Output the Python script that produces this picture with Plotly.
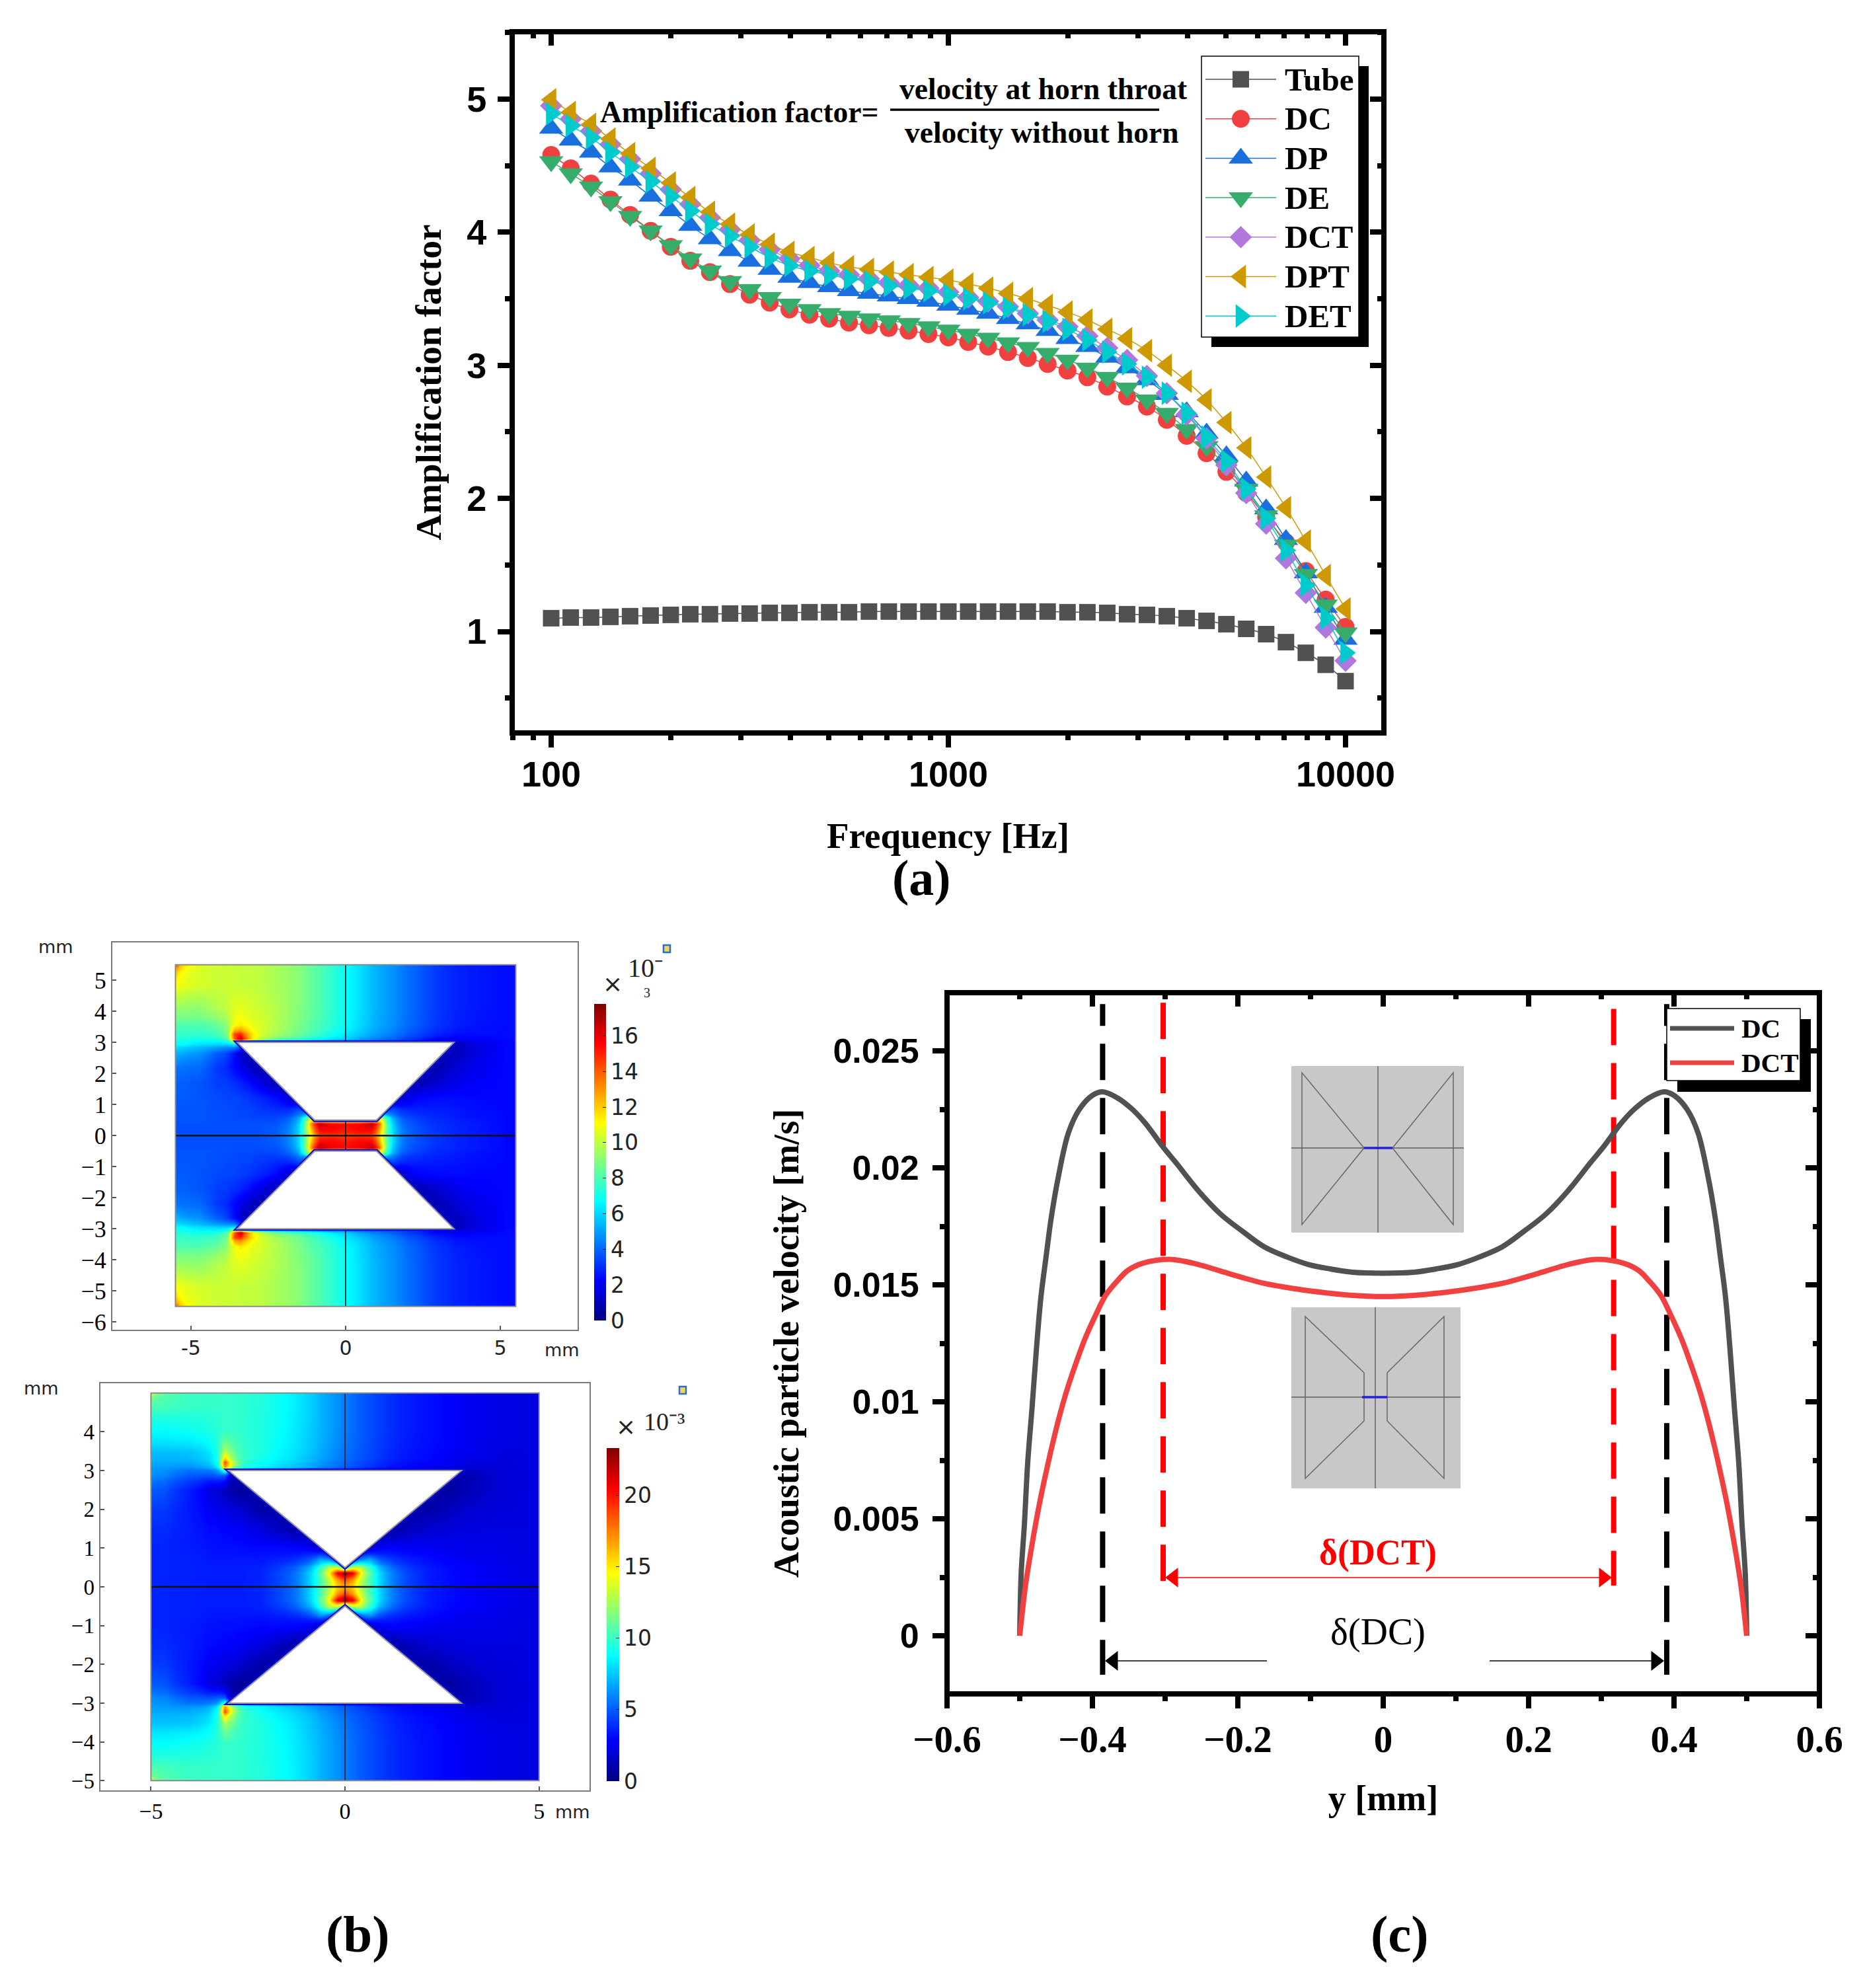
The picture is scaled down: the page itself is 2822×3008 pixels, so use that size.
import plotly.graph_objects as go

W = 2822
H = 3008
PAGE = 8  # default body margin of the written page

# panel (a): amplification factor vs frequency
freq = [100, 112, 126, 141, 158, 178, 200, 224, 251, 282, 316, 355, 398, 447, 501, 562, 631, 708, 794, 891, 1000,
        1122, 1259, 1413, 1585, 1778, 1995, 2239, 2512, 2818, 3162, 3548, 3981, 4467, 5012, 5623, 6310, 7079, 7943, 8913, 10000]
tube = [1.10, 1.105, 1.105, 1.11, 1.115, 1.12, 1.125, 1.13, 1.13, 1.135, 1.135, 1.14, 1.14, 1.145, 1.145, 1.145, 1.15, 1.15, 1.15, 1.15, 1.15,
        1.15, 1.15, 1.15, 1.15, 1.15, 1.145, 1.145, 1.14, 1.13, 1.125, 1.115, 1.10, 1.08, 1.055, 1.02, 0.98, 0.92, 0.84, 0.75, 0.627]
dc = [4.58, 4.48, 4.365, 4.245, 4.13, 4.01, 3.89, 3.785, 3.70, 3.61, 3.53, 3.47, 3.42, 3.38, 3.35, 3.32, 3.30, 3.28, 3.26, 3.235, 3.21,
      3.175, 3.14, 3.10, 3.055, 3.01, 2.96, 2.91, 2.84, 2.765, 2.69, 2.59, 2.47, 2.34, 2.20, 2.04, 1.86, 1.67, 1.455, 1.24, 1.035]
dp = [4.78, 4.69, 4.60, 4.49, 4.39, 4.27, 4.16, 4.05, 3.95, 3.86, 3.78, 3.72, 3.66, 3.62, 3.59, 3.56, 3.54, 3.52, 3.50, 3.48, 3.45,
      3.42, 3.39, 3.35, 3.31, 3.26, 3.20, 3.14, 3.06, 2.98, 2.89, 2.78, 2.65, 2.49, 2.32, 2.13, 1.92, 1.69, 1.44, 1.18, 0.94]
de = [4.53, 4.44, 4.34, 4.23, 4.12, 4.01, 3.90, 3.80, 3.71, 3.63, 3.57, 3.51, 3.46, 3.42, 3.39, 3.37, 3.35, 3.335, 3.315, 3.29, 3.265,
      3.235, 3.205, 3.17, 3.135, 3.09, 3.04, 2.98, 2.91, 2.83, 2.74, 2.64, 2.52, 2.39, 2.24, 2.07, 1.87, 1.65, 1.43, 1.20, 0.99]
dct = [4.95, 4.85, 4.76, 4.66, 4.55, 4.44, 4.32, 4.21, 4.11, 4.02, 3.94, 3.87, 3.80, 3.75, 3.71, 3.68, 3.65, 3.62, 3.60, 3.58, 3.55,
       3.51, 3.48, 3.44, 3.39, 3.34, 3.29, 3.22, 3.13, 3.04, 2.92, 2.79, 2.63, 2.45, 2.25, 2.04, 1.81, 1.55, 1.29, 1.03, 0.78]
dpt = [4.995, 4.90, 4.81, 4.70, 4.59, 4.48, 4.37, 4.26, 4.15, 4.06, 3.98, 3.91, 3.85, 3.81, 3.77, 3.74, 3.72, 3.70, 3.68, 3.66, 3.64,
       3.61, 3.58, 3.54, 3.50, 3.45, 3.40, 3.34, 3.27, 3.20, 3.11, 3.00, 2.88, 2.74, 2.57, 2.38, 2.16, 1.93, 1.68, 1.42, 1.17]
det = [4.89, 4.80, 4.71, 4.60, 4.49, 4.38, 4.27, 4.16, 4.06, 3.97, 3.89, 3.81, 3.75, 3.71, 3.68, 3.65, 3.63, 3.60, 3.58, 3.56, 3.53,
       3.50, 3.47, 3.43, 3.38, 3.33, 3.27, 3.19, 3.10, 3.01, 2.91, 2.79, 2.64, 2.46, 2.28, 2.07, 1.85, 1.61, 1.35, 1.10, 0.84]

series_a = [
    ("Tube", tube, "#515151", "square", 25),
    ("DC", dc, "#F14040", "circle", 27),
    ("DP", dp, "#1A6FDF", "triangle-up", 32),
    ("DE", de, "#37AD6B", "triangle-down", 32),
    ("DCT", dct, "#B177DE", "diamond", 26),
    ("DPT", dpt, "#CC9900", "triangle-left", 31),
    ("DET", det, "#00CBCC", "triangle-right", 31),
]

# panel (b), top: |velocity| in 1e-3 m/s read on a grid, upper half only
b1_x = [-5.5, -5.3, -4.8, -4, -3.8, -3.6, -3.4, -3.2, -2.8, -2.2, -1.8, -1.5, -1.3, -1.1, -0.9, -0.5, 0, 0.5, 0.9, 1.1, 1.3, 1.5, 1.8, 2.2, 3, 3.6, 4.2, 5.5]
b1_y = [0, 0.2, 0.4, 0.52, 0.8, 1.2, 1.7, 2.2, 2.7, 3, 3.1, 3.25, 3.5, 4, 5, 5.3, 5.5]
b1_z = [
    [3.6, 3.6, 3.6, 3.6, 3.6, 3.6, 3.6, 3.6, 3.6, 3.8, 4.6, 6.0, 8.5, 11.5, 14.5, 14.8, 14.5, 14.8, 14.5, 11.5, 8.5, 6.0, 4.4, 3.6, 3.1, 2.8, 2.6, 2.3],
    [3.6, 3.6, 3.6, 3.6, 3.6, 3.6, 3.6, 3.6, 3.6, 3.8, 4.6, 6.0, 8.8, 12.5, 15.6, 15.6, 15.2, 15.6, 15.6, 12.5, 8.8, 6.0, 4.4, 3.6, 3.1, 2.8, 2.6, 2.3],
    [3.6, 3.6, 3.6, 3.6, 3.6, 3.6, 3.6, 3.6, 3.6, 3.7, 4.4, 5.8, 8.8, 13.5, 17.0, 15.8, 15.4, 15.8, 17.0, 13.5, 8.8, 5.8, 4.2, 3.5, 3.0, 2.8, 2.6, 2.3],
    [3.7, 3.7, 3.7, 3.6, 3.6, 3.5, 3.5, 3.5, 3.4, 3.5, 4.0, 5.2, 8.0, 11.0, 8, 8, 8, 8, 8, 11.0, 8.0, 5.2, 3.9, 3.3, 2.9, 2.7, 2.5, 2.3],
    [3.7, 3.7, 3.7, 3.6, 3.5, 3.5, 3.4, 3.4, 3.2, 3.0, 3.0, 3.6, 3, 3, 3, 3, 3, 3, 3, 3, 3, 3.6, 3.0, 2.8, 2.7, 2.6, 2.4, 2.3],
    [3.8, 3.8, 3.7, 3.5, 3.4, 3.4, 3.3, 3.2, 2.9, 2.4, 1.4, 1, 1, 1, 1, 1, 1, 1, 1, 1, 1, 1, 1.4, 2.2, 2.4, 2.4, 2.3, 2.3],
    [3.9, 3.9, 3.7, 3.3, 3.2, 3.0, 2.8, 2.5, 1.8, 0.9, 1, 1, 1, 1, 1, 1, 1, 1, 1, 1, 1, 1, 1, 0.9, 1.4, 1.9, 2.2, 2.3],
    [4.3, 4.2, 4.1, 3.2, 2.8, 2.3, 1.9, 1.4, 0.7, 1, 1, 1, 1, 1, 1, 1, 1, 1, 1, 1, 1, 1, 1, 1, 0.9, 1.5, 2.0, 2.3],
    [5.4, 5.1, 4.8, 3.8, 3.2, 2.4, 1.4, 0.6, 1, 1, 1, 1, 1, 1, 1, 1, 1, 1, 1, 1, 1, 1, 1, 1, 1, 1.1, 1.8, 2.3],
    [6.8, 6.7, 6.2, 6.0, 6.0, 6.5, 5, 3, 3, 3, 3, 3, 3, 3, 3, 3, 3, 3, 3, 3, 3, 3, 3, 3, 2, 1.0, 1.8, 2.3],
    [7.2, 7.2, 7.0, 7.2, 8.5, 14, 17, 13, 10, 8.5, 8, 7.7, 7.4, 7.1, 6.8, 6.2, 5.8, 5, 4.5, 4.3, 4.1, 3.9, 3.5, 3, 2.2, 2, 2.2, 2.4],
    [7.6, 7.6, 7.5, 7.8, 9.2, 14.5, 15, 12.5, 10.5, 9.5, 9, 8.6, 8.2, 7.9, 7.6, 7, 6.3, 5.7, 5.1, 4.8, 4.6, 4.4, 4, 3.5, 2.8, 2.4, 2.4, 2.4],
    [8, 8, 8, 8.4, 9.5, 11, 11.5, 11, 10.5, 9.8, 9.2, 8.8, 8.5, 8.2, 7.9, 7.4, 6.7, 6, 5.4, 5.1, 4.9, 4.7, 4.3, 3.8, 3.1, 2.7, 2.5, 2.4],
    [9.3, 9.3, 9.2, 9.8, 10.2, 10.6, 10.6, 10.5, 10.2, 9.8, 9.3, 9, 8.7, 8.4, 8.1, 7.5, 6.8, 6.1, 5.5, 5.2, 5, 4.8, 4.4, 3.9, 3.2, 2.8, 2.6, 2.4],
    [11, 10.7, 10.4, 10.2, 10.2, 10.2, 10.1, 10.1, 10, 9.6, 9.3, 9, 8.7, 8.4, 8.1, 7.5, 6.8, 6.1, 5.5, 5.2, 5, 4.8, 4.4, 3.9, 3.2, 2.8, 2.6, 2.4],
    [12, 11, 10.5, 10.2, 10.2, 10.2, 10.1, 10.1, 10, 9.6, 9.3, 9, 8.7, 8.4, 8.1, 7.5, 6.8, 6.1, 5.5, 5.2, 5, 4.8, 4.4, 3.9, 3.2, 2.8, 2.6, 2.4],
    [13.5, 11.5, 10.6, 10.3, 10.2, 10.2, 10.1, 10.1, 10, 9.6, 9.3, 9, 8.7, 8.4, 8.1, 7.5, 6.8, 6.1, 5.5, 5.2, 5, 4.8, 4.4, 3.9, 3.2, 2.8, 2.6, 2.4],
]
b1_ticks = [0, 2, 4, 6, 8, 10, 12, 14, 16]
b1_zmax = 17.8
b1_slot = [(-3.5, 3), (3.5, 3), (1, 0.5), (-1, 0.5)]

# panel (b), bottom
b2_x = [-5, -4.8, -4, -3.4, -3.25, -3.1, -2.95, -2.7, -2.2, -1.6, -1.2, -0.9, -0.6, -0.4, -0.2, 0, 0.2, 0.4, 0.6, 0.9, 1.2, 1.6, 2.2, 2.7, 3.2, 4, 5]
b2_y = [0, 0.2, 0.35, 0.5, 0.7, 1, 1.5, 2, 2.5, 2.95, 3.08, 3.2, 3.4, 4, 4.8, 5]
b2_z = [
    [3.7, 3.7, 3.6, 3.5, 3.5, 3.5, 3.5, 3.5, 3.7, 4.6, 5.8, 7.8, 10.5, 13, 15.5, 16.5, 15.5, 13, 10.5, 7.8, 5.8, 4.4, 3.5, 3.1, 2.8, 2.5, 2.2],
    [3.7, 3.7, 3.6, 3.5, 3.5, 3.5, 3.5, 3.5, 3.7, 4.6, 5.8, 7.8, 10.5, 13.5, 17, 19, 17, 13.5, 10.5, 7.8, 5.8, 4.4, 3.5, 3.1, 2.8, 2.5, 2.2],
    [3.7, 3.7, 3.6, 3.5, 3.5, 3.5, 3.5, 3.5, 3.7, 4.6, 5.8, 7.8, 11, 15, 21, 23.2, 21, 15, 11, 7.8, 5.8, 4.4, 3.5, 3.1, 2.8, 2.5, 2.2],
    [3.7, 3.7, 3.6, 3.5, 3.5, 3.5, 3.5, 3.5, 3.6, 4.3, 5.3, 7, 10, 13, 13, 8, 13, 13, 10, 7, 5.3, 4.1, 3.4, 3, 2.8, 2.5, 2.2],
    [3.7, 3.7, 3.6, 3.4, 3.4, 3.4, 3.4, 3.4, 3.4, 3.6, 4, 4.8, 6.5, 5.5, 3, 3, 3, 5.5, 6.5, 4.8, 4, 3.5, 3.1, 2.8, 2.6, 2.4, 2.2],
    [3.7, 3.7, 3.5, 3.3, 3.2, 3.2, 3.2, 3.1, 3, 3, 2.8, 2.4, 1.2, 1, 1, 1, 1, 1, 1.2, 2.4, 2.8, 2.7, 2.6, 2.5, 2.4, 2.3, 2.2],
    [3.9, 3.9, 3.5, 3.1, 3, 2.9, 2.9, 2.7, 2.2, 1.4, 0.8, 1, 1, 1, 1, 1, 1, 1, 1, 1, 0.8, 1.4, 1.9, 2.1, 2.2, 2.2, 2.2],
    [4.3, 4.2, 3.5, 2.7, 2.5, 2.3, 2.1, 1.8, 0.9, 1, 1, 1, 1, 1, 1, 1, 1, 1, 1, 1, 1, 1, 0.9, 1.5, 1.9, 2.1, 2.2],
    [5, 4.8, 3.6, 2.2, 1.8, 1.4, 1, 0.6, 1, 1, 1, 1, 1, 1, 1, 1, 1, 1, 1, 1, 1, 1, 1, 0.8, 1.4, 2, 2.2],
    [6.2, 6, 5, 4.8, 5.2, 5, 1.5, 1, 1, 1, 1, 1, 1, 1, 1, 1, 1, 1, 1, 1, 1, 1, 1, 1, 1.3, 2, 2.2],
    [6.5, 6.5, 6.2, 6.8, 9, 17, 13, 9.5, 8.6, 7.8, 7.2, 6.6, 6, 5.7, 5.3, 5, 4.6, 4.3, 4, 3.6, 3.3, 3, 2.7, 2.4, 2, 2, 2.2],
    [6.8, 6.8, 6.8, 7.5, 10, 19, 14, 10, 9, 8.2, 7.6, 7, 6.4, 6, 5.6, 5.3, 4.9, 4.6, 4.3, 3.9, 3.5, 3.2, 2.9, 2.6, 2.2, 2.1, 2.2],
    [7.3, 7.3, 7.4, 8.2, 10, 13, 11.5, 10, 9.4, 8.6, 8, 7.4, 6.8, 6.4, 6, 5.6, 5.2, 4.9, 4.6, 4.2, 3.8, 3.4, 3.1, 2.8, 2.5, 2.2, 2.2],
    [8.8, 8.8, 9, 9.4, 9.7, 9.9, 9.9, 9.8, 9.4, 8.8, 8.2, 7.6, 7, 6.6, 6.2, 5.8, 5.4, 5, 4.7, 4.3, 3.9, 3.5, 3.2, 2.9, 2.6, 2.3, 2.2],
    [10.5, 10.3, 10, 9.9, 9.9, 9.9, 9.9, 9.8, 9.5, 8.9, 8.3, 7.7, 7, 6.6, 6.2, 5.8, 5.4, 5, 4.7, 4.3, 3.9, 3.5, 3.2, 2.9, 2.6, 2.3, 2.2],
    [12.5, 10.8, 10.1, 10, 10, 9.9, 9.9, 9.8, 9.5, 8.9, 8.3, 7.7, 7, 6.6, 6.2, 5.8, 5.4, 5, 4.7, 4.3, 3.9, 3.5, 3.2, 2.9, 2.6, 2.3, 2.2],
]
b2_ticks = [0, 5, 10, 15, 20]
b2_zmax = 23.3
b2_slot = [(-3, 3), (3, 3), (0, 0.5)]

# panel (c): velocity profile across the throat, left half up to y = 0
dc_pos = [-0.5, -0.498, -0.4936, -0.4891, -0.483, -0.477, -0.4709, -0.4636, -0.457, -0.447, -0.433, -0.418, -0.4, -0.386, -0.366, -0.345, -0.327, -0.303,
          -0.2845, -0.2542, -0.2239, -0.1936, -0.1634, -0.133, -0.1027, -0.0727, -0.042, 0]
dc_vel = [0, 0.00266, 0.00475, 0.00737, 0.00977, 0.01227, 0.01446, 0.01624, 0.0178, 0.0196, 0.0215, 0.0225, 0.0231, 0.02325, 0.0230, 0.0225, 0.0219, 0.0209,
          0.0202, 0.01902, 0.01803, 0.01729, 0.01662, 0.0162, 0.01587, 0.01568, 0.01554, 0.0155]
dct_pos = [-0.5, -0.4921, -0.483, -0.4739, -0.4648, -0.4557, -0.4466, -0.4361, -0.4239, -0.4103, -0.3952, -0.3815, -0.3634, -0.3512, -0.33, -0.2936,
           -0.2542, -0.2239, -0.1936, -0.1634, -0.133, -0.1027, -0.042, 0]
dct_vel = [0, 0.00214, 0.00391, 0.00548, 0.00684, 0.00809, 0.00924, 0.0104, 0.01154, 0.01269, 0.01373, 0.01457, 0.01525, 0.01562, 0.01593, 0.01609,
           0.01587, 0.01559, 0.01531, 0.01506, 0.01489, 0.01475, 0.01455, 0.0145]
guide_dc = [-0.386, 0.39]
guide_dct = [-0.3027, 0.317]

SERIF = "Liberation Serif"
SANS = "Liberation Sans"
DEJA = "DejaVu Sans"
JET = [[0, "#00007F"], [0.125, "#0000FF"], [0.375, "#00FFFF"], [0.625, "#FFFF00"], [0.875, "#FF0000"], [1, "#7F0000"]]


def dom_x(a, b):
    return [(a - PAGE) / W, (b - PAGE) / W]


def dom_y(top, bottom):
    return [1 - (bottom - PAGE) / H, 1 - (top - PAGE) / H]


def bounds(cols):
    # cell edges from centre positions, clamped to the field
    mid = [(p + q) / 2 for p, q in zip(cols[:-1], cols[1:])]
    return [cols[0]] + mid + [cols[-1]]


def full_field(rows_y, rows):
    # lower half is the mirror of the upper half
    return [-v for v in rows_y[:0:-1]] + rows_y, rows[:0:-1] + rows


def whole_profile(pos, vel):
    # the profile is symmetric about y = 0
    return pos + [-p for p in pos[-2::-1]], vel + vel[-2::-1]


fig = go.Figure()

# panel (a)
for name, vals, col, sym, size in series_a:
    fig.add_trace(go.Scatter(x=freq, y=vals, name=name, mode="lines+markers", showlegend=False, xaxis="x", yaxis="y",
                             line=dict(color=col, width=1.5, shape="spline"),
                             marker=dict(symbol=sym, size=size, color=col, line=dict(width=0))))
fig.add_trace(go.Scatter(x=[freq[0]], y=[tube[0]], mode="markers", marker=dict(opacity=0), showlegend=False, xaxis="x2", yaxis="y2", hoverinfo="skip"))

# panel (b)
for z_rows, xs, ys, zmax, ticks, xa, ya, cbar, slot in [
    (b1_z, b1_x, b1_y, b1_zmax, b1_ticks, "x3", "y3", dict(x=(899 - PAGE) / W, y=1 - (1519 - PAGE) / H, len=479, thickness=18), b1_slot),
    (b2_z, b2_x, b2_y, b2_zmax, b2_ticks, "x4", "y4", dict(x=(918 - PAGE) / W, y=1 - (2191 - PAGE) / H, len=504, thickness=19), b2_slot),
]:
    full_y, full_z = full_field(ys, z_rows)
    fig.add_trace(go.Heatmap(x=bounds(xs), y=bounds(full_y), z=full_z, zmin=0, zmax=zmax, zsmooth="best", colorscale=JET,
                             xaxis=xa, yaxis=ya, hoverinfo="skip",
                             colorbar=dict(xanchor="left", yanchor="top", xpad=0, ypad=0, lenmode="pixels", thicknessmode="pixels",
                                           outlinewidth=0, tickmode="array", tickvals=ticks, ticks="inside", ticklen=5,
                                           tickcolor="#222222", tickfont=dict(family=DEJA, size=33, color="#222222"), **cbar)))
    top_y = slot[0][1]
    low_y = slot[-1][1]
    xmin, xmax = xs[0], xs[-1]
    cross_x = [0, 0, None, 0, 0, None, 0, 0]
    cross_y = [ys[-1], top_y, None, low_y, -low_y, None, -top_y, -ys[-1]]
    fig.add_trace(go.Scatter(x=cross_x, y=cross_y, mode="lines", line=dict(color="#111111", width=1.5), showlegend=False, xaxis=xa, yaxis=ya, hoverinfo="skip"))
    fig.add_trace(go.Scatter(x=[xmin, xmax], y=[0, 0], mode="lines", line=dict(color="#111111", width=2.5), showlegend=False, xaxis=xa, yaxis=ya, hoverinfo="skip"))

# panel (c)
black_dash = "33px,27px," + ",".join(["55px,27px"] * 14)
for xpos, top, bottom, col, dash in [(guide_dc[0], 0.0270, -0.00167, "black", black_dash), (guide_dc[1], 0.0270, -0.00167, "black", black_dash),
                                     (guide_dct[0], 0.02706, 0.00234, "#FF0000", "55px,27px"), (guide_dct[1], 0.0268, 0.00215, "#FF0000", "55px,27px")]:
    fig.add_trace(go.Scatter(x=[xpos, xpos], y=[top, bottom], mode="lines", line=dict(color=col, width=8, dash=dash),
                             showlegend=False, xaxis="x5", yaxis="y5", hoverinfo="skip"))
dc_x, dc_y = whole_profile(dc_pos, dc_vel)
dct_x, dct_y = whole_profile(dct_pos, dct_vel)
fig.add_trace(go.Scatter(x=dc_x, y=dc_y, name="DC", mode="lines", line=dict(color="#515151", width=8, shape="spline"), showlegend=False, xaxis="x5", yaxis="y5"))
fig.add_trace(go.Scatter(x=dct_x, y=dct_y, name="DCT", mode="lines", line=dict(color="#F14040", width=8, shape="spline"), showlegend=False, xaxis="x5", yaxis="y5"))
fig.add_trace(go.Scatter(x=[0], y=[0], mode="markers", marker=dict(opacity=0), showlegend=False, xaxis="x6", yaxis="y6", hoverinfo="skip"))

# legend keys are drawn on a pixel overlay, plotly caps real legend markers at 16px
OVER = dict(xaxis="x7", yaxis="y7", showlegend=False, hoverinfo="skip")
annos = []


def label(x, y, text, size, family=SERIF, weight=400, color="black", anchor="center", angle=0):
    annos.append(dict(xref="x7", yref="y7", x=x, y=y, text=text, showarrow=False, xanchor=anchor, yanchor="middle", textangle=angle,
                      font=dict(family=family, size=size, weight=weight, color=color)))


def arrow(x_tip, x_tail, y, color, width=1.3):
    # thin shaft with a triangle head at the tip
    sym = "triangle-left" if x_tip < x_tail else "triangle-right"
    shift = 13 if x_tip < x_tail else -13
    fig.add_trace(go.Scatter(x=[x_tip + shift, x_tail], y=[y, y], mode="lines", line=dict(color=color, width=width), **OVER))
    fig.add_trace(go.Scatter(x=[x_tip + shift], y=[y], mode="markers", marker=dict(symbol=sym, size=26, color=color, line=dict(width=0)), **OVER))


for i, (name, vals, col, sym, size) in enumerate(series_a):
    row = 120 + 59.7 * i
    fig.add_trace(go.Scatter(x=[1824, 1877.5, 1931], y=[row, row, row], mode="lines+markers", line=dict(color=col, width=1.5),
                             marker=dict(symbol=sym, size=[0, size, 0], opacity=1, color=col, line=dict(width=0)), **OVER))
    label(1942, row, name, 49, weight=700, anchor="left")
for row, col, name in [(1556, "#515151", "DC"), (1608, "#F14040", "DCT")]:
    fig.add_trace(go.Scatter(x=[2527, 2624], y=[row, row], mode="lines", line=dict(color=col, width=7), **OVER))
    label(2633, row, name, 41, weight=700, anchor="left")

label(1118, 169, "Amplification factor=", 45.5, weight=700)
label(1578, 134, "velocity at horn throat", 45.5, weight=700)
label(1576, 200, "velocity without horn", 45.5, weight=700)
label(1394, 1328, "(a)", 76, weight=700)
label(541, 2926, "(b)", 79, weight=700)
label(2118, 2926, "(c)", 79, weight=700)
label(2085, 2349, "δ(DCT)", 54, weight=700, color="#FF0000")
label(2085, 2469, "δ(DC)", 57)
label(84, 1432, "mm", 27, family=DEJA, color="#222222")
label(850, 2042, "mm", 27, family=DEJA, color="#222222")
label(62, 2100, "mm", 27, family=DEJA, color="#222222")
label(866, 2741, "mm", 27, family=DEJA, color="#222222")
label(927, 1488, "×", 36, family=DEJA, color="#222222")
label(977, 1464, "10⁻", 40, color="#222222")
label(979, 1502, "3", 20, color="#222222")
label(947, 2158, "×", 36, family=DEJA, color="#222222")
label(1005, 2151, "10⁻³", 38, color="#222222")
arrow(1763, 2100, 2387, "#FF0000")
arrow(2439, 2100, 2387, "#FF0000")
arrow(1672, 1917, 2513, "black")
arrow(2518, 2254, 2513, "black")


def over_rect(x0, y0, x1, y1, fill=None, line=None, width=0):
    return dict(type="rect", xref="x7", yref="y7", x0=x0, y0=y0, x1=x1, y1=y1, layer="below",
                fillcolor=fill or "rgba(0,0,0,0)", line=dict(color=line or "rgba(0,0,0,0)", width=width))


def over_path(points, color, width=1.5):
    d = "M" + " L".join(f"{p[0]},{p[1]}" for p in points)
    return dict(type="path", xref="x7", yref="y7", path=d, layer="below", line=dict(color=color, width=width))


def slot_shapes(slot, xa, ya):
    out = []
    for sign in (1, -1):
        d = "M" + " L".join(f"{p[0]},{sign * p[1]}" for p in slot) + " Z"
        out.append(dict(type="path", xref=xa, yref=ya, path=d, fillcolor="white", line=dict(color="#0A0AD0", width=6)))
        out.append(dict(type="path", xref=xa, yref=ya, path=d, fillcolor="white", line=dict(color="#9a9a9a", width=2)))
    return out


shapes = [
    over_rect(775, 48, 2094, 1109, line="black", width=8),
    over_rect(1433, 1502, 2753, 2563, line="black", width=8),
    # legend shadows and boxes
    over_rect(1833, 100, 2071, 525, fill="black"),
    over_rect(1818, 85, 2056, 510, fill="white", line="black", width=1.5),
    over_rect(2538, 1542, 2740, 1652, fill="black"),
    over_rect(2522, 1526, 2724, 1635, fill="white", line="black", width=1.5),
    over_path([(1347, 166), (1754, 166)], "black", 3.5),
    # geometry sketches inside panel (c)
    over_rect(1954, 1613, 2215, 1865, fill="#C8C8C8"),
    over_path([(1954, 1737), (2215, 1737)], "#777777", 2),
    over_path([(2085, 1613), (2085, 1865)], "#666666"),
    over_path([(2064, 1737), (1970, 1623), (1970, 1853), (2064, 1737)], "#666666"),
    over_path([(2107, 1737), (2199, 1623), (2199, 1853), (2107, 1737)], "#666666"),
    over_path([(2064, 1737), (2107, 1737)], "#2222DD", 3.5),
    over_rect(1954, 1978, 2210, 2252, fill="#C8C8C8"),
    over_path([(1954, 2114), (2210, 2114)], "#777777", 2),
    over_path([(2081, 1978), (2081, 2252)], "#666666"),
    over_path([(2064, 2077), (1975, 1992), (1975, 2237), (2064, 2150), (2064, 2077)], "#666666"),
    over_path([(2099, 2077), (2185, 1992), (2185, 2237), (2099, 2150), (2099, 2077)], "#666666"),
    over_path([(2061, 2114), (2099, 2114)], "#2222DD", 3.5),
    # little view icons beside the field plots
    over_rect(1004, 1430, 1014, 1441, fill="#F4D35E", line="#2A6FC9", width=2.5),
    over_rect(1028, 2098, 1038, 2109, fill="#F4D35E", line="#2A6FC9", width=2.5),
]
shapes += slot_shapes(b1_slot, "x3", "y3")
shapes += slot_shapes(b2_slot, "x4", "y4")
for xa, ya, xs in [("x3", "y3", b1_x), ("x4", "y4", b2_x)]:
    shapes.append(dict(type="rect", xref=xa, yref=ya, x0=xs[0], x1=xs[-1], y0=xs[0], y1=xs[-1], line=dict(color="#8a8a8a", width=2)))

a_x_dom = dom_x(775, 2094)
a_y_dom = dom_y(48, 1109)
a_x_range = [1.9018, 4.0965]
a_y_range = [0.238, 5.506]
c_x_dom = dom_x(1433, 2753)
c_y_dom = dom_y(1502, 2563)
c_x_range = [-0.6, 0.6]
c_y_range = [-0.002486, 0.02749]

log_minor = dict(ticks="outside", ticklen=10, tickwidth=8, tickcolor="black", dtick="D1")
log_minor_in = dict(ticks="inside", ticklen=10, tickwidth=8, tickcolor="black", dtick="D1")
grey_axis = dict(showgrid=False, zeroline=False, showline=True, mirror=True, linecolor="#7a7a7a", linewidth=2, ticks="inside",
                 ticklen=6, tickwidth=2, tickcolor="#555555")

fig.update_layout(
    width=W, height=H, autosize=False, margin=dict(l=0, r=0, t=0, b=0, pad=0, autoexpand=False), paper_bgcolor="white", plot_bgcolor="rgba(0,0,0,0)",
    showlegend=False, shapes=shapes, annotations=annos,
    xaxis=dict(showgrid=False, zeroline=False, showline=False, type="log", domain=a_x_dom, range=a_x_range, anchor="y", dtick=1, ticks="outside",
               ticklen=21, tickwidth=8, tickcolor="black", minor=log_minor, tickformat="d", ticklabelstandoff=-6,
               tickfont=dict(family=SANS, size=54, weight=700, color="black"),
               title=dict(text="Frequency [Hz]", standoff=44, font=dict(family=SERIF, size=55, weight=700, color="black"))),
    yaxis=dict(showgrid=False, zeroline=False, showline=False, domain=a_y_dom, range=a_y_range, anchor="x", dtick=1, tick0=0, ticks="outside",
               ticklen=21, tickwidth=8, tickcolor="black", minor=dict(ticks="outside", ticklen=10, tickwidth=8, tickcolor="black", dtick=0.5, tick0=0),
               ticklabelstandoff=6, tickfont=dict(family=SANS, size=54, weight=700, color="black"),
               title=dict(text="Amplification factor", standoff=20, font=dict(family=SERIF, size=55, weight=700, color="black"))),
    xaxis2=dict(showgrid=False, zeroline=False, showline=False, type="log", domain=a_x_dom, range=a_x_range, anchor="y2", side="top", dtick=1, ticks="inside",
                ticklen=21, tickwidth=8, tickcolor="black", minor=log_minor_in, showticklabels=False),
    yaxis2=dict(showgrid=False, zeroline=False, showline=False, domain=a_y_dom, range=a_y_range, anchor="x2", side="right", dtick=1, tick0=0, ticks="inside",
                ticklen=21, tickwidth=8, tickcolor="black", minor=dict(ticks="inside", ticklen=10, tickwidth=8, tickcolor="black", dtick=0.5, tick0=0),
                showticklabels=False),
    xaxis3=dict(grey_axis, domain=dom_x(170, 874), range=[-7.54, 7.5], anchor="y3", tickmode="array", tickvals=[-5, 0, 5], ticktext=["-5", "0", "5"],
                tickfont=dict(family=DEJA, size=30, color="#222222")),
    yaxis3=dict(grey_axis, domain=dom_y(1426, 2012), range=[-6.25, 6.22], anchor="x3", tickmode="array", tickvals=[-6, -5, -4, -3, -2, -1, 0, 1, 2, 3, 4, 5],
                tickfont=dict(family=SERIF, size=36, color="black")),
    xaxis4=dict(grey_axis, domain=dom_x(151.5, 892), range=[-6.31, 6.3], anchor="y4", dtick=5, tick0=0, tickfont=dict(family=SERIF, size=34, color="black")),
    yaxis4=dict(grey_axis, domain=dom_y(2093, 2709), range=[-5.25, 5.25], anchor="x4", tickmode="array", tickvals=[-5, -4, -3, -2, -1, 0, 1, 2, 3, 4],
                tickfont=dict(family=SERIF, size=33, color="black")),
    xaxis5=dict(showgrid=False, zeroline=False, showline=False, domain=c_x_dom, range=c_x_range, anchor="y5", dtick=0.2, tick0=0, ticks="outside",
                ticklen=21, tickwidth=8, tickcolor="black", minor=dict(ticks="outside", ticklen=10, tickwidth=8, tickcolor="black", dtick=0.1, tick0=0),
                ticklabelstandoff=-2, tickfont=dict(family=SERIF, size=57, weight=700, color="black"),
                title=dict(text="y [mm]", standoff=38, font=dict(family=SERIF, size=54, weight=700, color="black"))),
    yaxis5=dict(showgrid=False, zeroline=False, showline=False, domain=c_y_dom, range=c_y_range, anchor="x5", dtick=0.005, tick0=0, ticks="outside",
                ticklen=21, tickwidth=8, tickcolor="black", minor=dict(ticks="outside", ticklen=10, tickwidth=8, tickcolor="black", dtick=0.0025, tick0=0),
                ticklabelstandoff=10, tickfont=dict(family=SANS, size=52, weight=700, color="black"),
                title=dict(text="Acoustic particle velocity [m/s]", standoff=34, font=dict(family=SERIF, size=54, weight=700, color="black"))),
    xaxis6=dict(showgrid=False, zeroline=False, showline=False, domain=c_x_dom, range=c_x_range, anchor="y6", side="top", dtick=0.2, tick0=0, ticks="inside",
                ticklen=21, tickwidth=8, tickcolor="black", minor=dict(ticks="inside", ticklen=10, tickwidth=8, tickcolor="black", dtick=0.1, tick0=0),
                showticklabels=False),
    yaxis6=dict(showgrid=False, zeroline=False, showline=False, domain=c_y_dom, range=c_y_range, anchor="x6", side="right", dtick=0.005, tick0=0, ticks="inside",
                ticklen=21, tickwidth=8, tickcolor="black", minor=dict(ticks="inside", ticklen=10, tickwidth=8, tickcolor="black", dtick=0.0025, tick0=0),
                showticklabels=False),
    xaxis7=dict(domain=[0, 1], range=[PAGE, W + PAGE], anchor="y7", visible=False, fixedrange=True),
    yaxis7=dict(domain=[0, 1], range=[H + PAGE, PAGE], anchor="x7", visible=False, fixedrange=True),
)

fig.write_html("out.html")
